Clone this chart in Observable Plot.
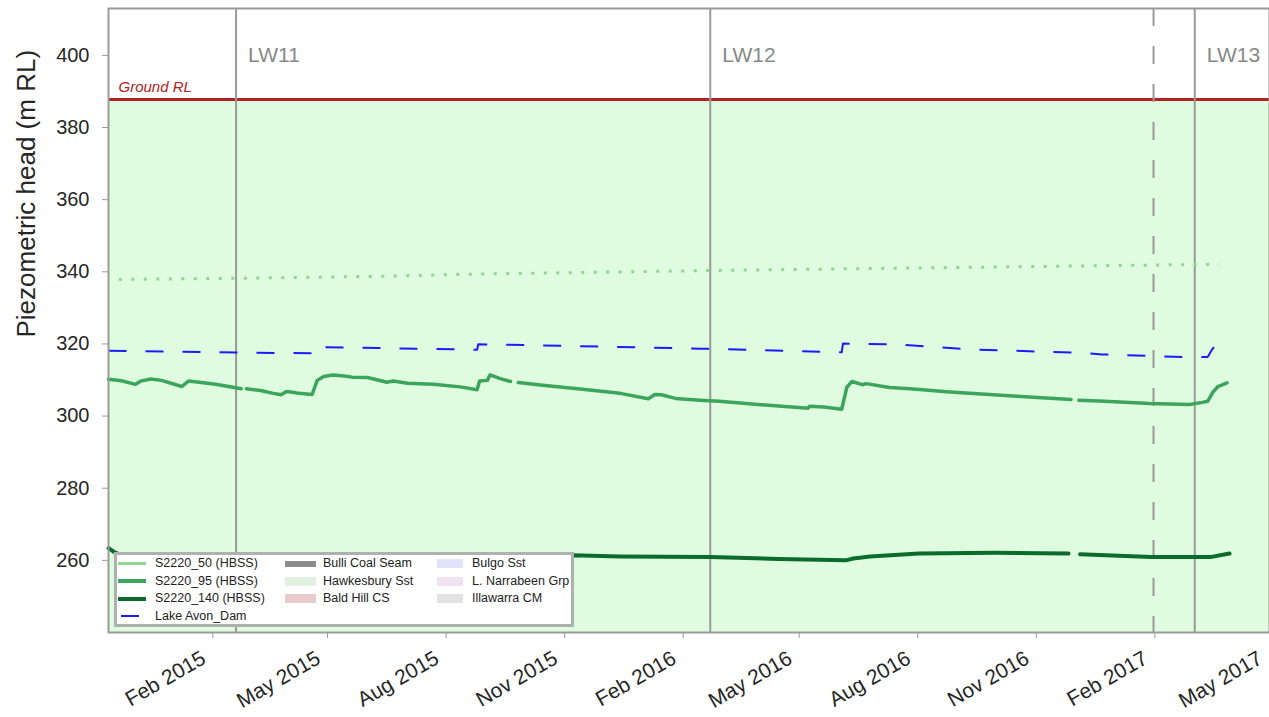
<!DOCTYPE html>
<html><head><meta charset="utf-8">
<script src="https://cdn.jsdelivr.net/npm/d3@7"></script>
<script src="https://cdn.jsdelivr.net/npm/@observablehq/plot@0.6"></script>
<style>
body{margin:0;background:#fff;font-family:Arial,"Liberation Sans",sans-serif;}
#wrap{position:relative;width:1269px;height:717px;overflow:hidden;}
#legend{position:absolute;left:114px;top:552px;width:454px;height:69px;border:3px solid #b0b0b0;background:#fff;font-size:12.5px;color:#222;}
.sw{position:absolute;}
.lt{position:absolute;line-height:17px;white-space:nowrap;}
</style></head><body><div id="wrap"></div>
<script>
// ---------- data ----------
const xDomain = ["2014-11-12", "2017-05-01"];
const yDomain = [240, 413];
const yTicks = [260, 280, 300, 320, 340, 360, 380, 400];
const xTicks = ["2015-02-01","2015-05-01","2015-08-01","2015-11-01","2016-02-01","2016-05-01","2016-08-01","2016-11-01","2017-02-01","2017-05-01"];
const groundRL = 387.8;
const lwNames = ["LW11", "LW12", "LW13"];
const lwDates = ["2015-02-19", "2016-02-22", "2017-03-04"];
const dashedDate = ["2017-01-31"];

const s2220_50 = [["2014-11-20",337.9],["2015-02-19",338.2],["2015-06-01",338.7],["2015-09-01",339.4],["2015-12-01",339.9],["2016-03-01",340.4],["2016-06-01",340.8],["2016-09-01",341.2],["2016-12-01",341.6],["2017-03-23",342.1]];

const s2220_95 = [["2014-11-12",310.2],["2014-11-22",309.8],["2014-12-03",308.8],["2014-12-07",309.7],["2014-12-15",310.3],["2014-12-23",309.9],["2015-01-08",308.2],["2015-01-13",309.7],["2015-01-23",309.3],["2015-02-03",308.8],["2015-02-12",308.3],["2015-02-23",307.6],["2015-02-25",NaN],["2015-02-27",307.6],["2015-03-10",307.1],["2015-03-20",306.3],["2015-03-26",305.9],["2015-03-30",306.8],["2015-04-04",306.6],["2015-04-09",306.3],["2015-04-19",306.0],["2015-04-23",309.9],["2015-04-28",311.0],["2015-05-05",311.4],["2015-05-14",311.1],["2015-05-20",310.8],["2015-06-01",310.7],["2015-06-16",309.4],["2015-06-21",309.7],["2015-07-02",309.1],["2015-07-22",308.8],["2015-08-12",308.1],["2015-08-25",307.3],["2015-08-27",309.7],["2015-09-02",309.9],["2015-09-04",311.4],["2015-09-12",310.4],["2015-09-20",309.6],["2015-09-23",NaN],["2015-09-26",309.3],["2015-10-13",308.6],["2015-11-13",307.5],["2015-12-14",306.3],["2016-01-05",304.8],["2016-01-10",306.0],["2016-01-15",305.9],["2016-01-26",304.9],["2016-02-14",304.4],["2016-02-29",304.1],["2016-03-23",303.4],["2016-04-15",302.8],["2016-05-08",302.2],["2016-05-09",302.7],["2016-05-20",302.5],["2016-06-03",301.9],["2016-06-07",308.0],["2016-06-11",309.6],["2016-06-19",308.7],["2016-06-22",309.0],["2016-07-10",307.9],["2016-07-26",307.6],["2016-08-26",306.7],["2016-10-17",305.5],["2016-11-28",304.6],["2016-12-01",NaN],["2016-12-04",304.4],["2016-12-20",304.2],["2017-01-28",303.5],["2017-02-28",303.2],["2017-03-10",303.8],["2017-03-14",304.1],["2017-03-18",306.6],["2017-03-22",308.2],["2017-03-29",309.2]];

const s2220_140 = [["2014-11-12",263.4],["2014-11-16",262.4],["2014-11-22",261.4],["2015-02-15",261.3],["2015-06-15",261.3],["2015-09-15",261.3],["2015-11-07",261.4],["2015-12-14",261.1],["2016-02-22",260.9],["2016-04-15",260.4],["2016-06-06",260.0],["2016-06-12",260.5],["2016-06-25",261.1],["2016-08-02",261.9],["2016-09-30",262.1],["2016-11-04",262.0],["2016-11-26",261.9],["2016-11-30",NaN],["2016-12-05",261.7],["2017-01-29",260.9],["2017-03-16",260.9],["2017-03-31",261.9]];

const lakeAvon = [["2014-11-12",318.1],["2015-02-23",317.6],["2015-04-27",317.4],["2015-04-28",319.1],["2015-08-12",318.5],["2015-08-25",318.4],["2015-08-26",319.9],["2015-10-01",319.7],["2016-02-14",318.7],["2016-03-23",318.4],["2016-05-24",317.8],["2016-06-03",317.7],["2016-06-04",320.1],["2016-07-16",319.9],["2016-09-10",318.5],["2016-12-07",317.5],["2016-12-22",317.1],["2017-03-02",316.3],["2017-03-14",316.4],["2017-03-17",318.2],["2017-03-20",319.6],["2017-03-28",319.9]];

const legendLines = ["S2220_50 (HBSS)", "S2220_95 (HBSS)", "S2220_140 (HBSS)", "Lake Avon_Dam"];
const legendPatches = ["Bulli Coal Seam", "Hawkesbury Sst", "Bald Hill CS", "Bulgo Sst", "L. Narrabeen Grp", "Illawarra CM"];

// ---------- styles ----------
const lineColors = ["#8fd68f", "#3ca55c", "#0b6b2b", "#1a1aff"];
const lineWidths = [3, 3.5, 4, 2];
const patchColors = ["#8c8c8c", "#e2f2e2", "#e8cccc", "#e2e2fc", "#f0e2f0", "#e2e2e2"];

const D = s => new Date(s);
const xd = xDomain.map(D);
const px = d => D(d[0]);
const py = d => d[1];

const chart = Plot.plot({
  width: 1269, height: 717,
  marginLeft: 108, marginRight: 0, marginTop: 8, marginBottom: 85,
  x: {type: "utc", domain: xd},
  y: {domain: yDomain},
  style: {fontFamily: "Arial, 'Liberation Sans', sans-serif", background: "#fff", overflow: "visible"},
  marks: [
    Plot.rect([{x1: xd[0], x2: xd[1], y1: yDomain[0], y2: groundRL}], {x1: "x1", x2: "x2", y1: "y1", y2: "y2", fill: "#e0fce0"}),
    Plot.ruleY([groundRL], {stroke: "#b22222", strokeWidth: 3}),
    Plot.ruleX(lwDates.map(D), {stroke: "#9a9a9a", strokeWidth: 2}),
    Plot.ruleX(dashedDate.map(D), {stroke: "#9a9a9a", strokeWidth: 2, strokeDasharray: "18,20"}),
    Plot.text(lwNames, {x: (d, i) => D(lwDates[i]), y: () => 400, text: d => d, dx: 12, textAnchor: "start", fontSize: 21, fill: "#888"}),
    Plot.text(["Ground RL"], {x: () => xd[0], y: () => groundRL, text: d => d, dx: 10, dy: -7, textAnchor: "start", lineAnchor: "bottom", fontSize: 15, fontStyle: "italic", fill: "#b22222"}),
    Plot.line(s2220_50, {x: px, y: py, stroke: lineColors[0], strokeWidth: lineWidths[0], strokeDasharray: "3,9.5", strokeLinecap: "butt"}),
    Plot.line(lakeAvon, {x: px, y: py, stroke: lineColors[3], strokeWidth: lineWidths[3], strokeDasharray: "18,19", strokeLinecap: "butt"}),
    Plot.line(s2220_95, {x: px, y: py, stroke: lineColors[1], strokeWidth: lineWidths[1]}),
    Plot.line(s2220_140, {x: px, y: py, stroke: lineColors[2], strokeWidth: lineWidths[2]}),
    Plot.frame({stroke: "#9a9a9a", strokeWidth: 2}),
    Plot.axisY({ticks: yTicks, tickSize: 6, tickPadding: 13, fontSize: 20, label: null, stroke: "#999", fill: "#262626"}),
    Plot.axisX({ticks: xTicks.map(D), tickFormat: () => "", tickSize: 6, label: null, stroke: "#999"}),
    Plot.axisX({ticks: xTicks.map(D), tickFormat: d3.utcFormat("%b %Y"), tickRotate: -30, tickSize: 0, tickPadding: 24, dx: -9, fontSize: 21, label: null, fill: "#262626"}),
    Plot.text(["Piezometric head (m RL)"], {frameAnchor: "left", text: d => d, rotate: -90, dx: -82, dy: 17, fontSize: 26, fill: "#262626"})
  ]
});

const wrap = document.getElementById("wrap");
wrap.appendChild(chart);

// ---------- legend (HTML overlay) ----------
const leg = document.createElement("div");
leg.id = "legend";
const rowTop = i => i * 17.6;
legendLines.forEach((name, i) => {
  const sw = document.createElement("div");
  sw.className = "sw";
  const w = i === 3 ? 18 : 28;
  const l = i === 3 ? 4 : 1;
  sw.style.cssText = `left:${l}px;top:${rowTop(i) + 8.5 - lineWidths[i] / 2}px;width:${w}px;height:${lineWidths[i]}px;background:${lineColors[i]};`;
  leg.appendChild(sw);
  const t = document.createElement("div");
  t.className = "lt";
  t.style.cssText = `left:38px;top:${rowTop(i)}px;`;
  t.textContent = name;
  leg.appendChild(t);
});
legendPatches.forEach((name, j) => {
  const col = Math.floor(j / 3), row = j % 3;
  const sl = col === 0 ? 168 : 320, tl = col === 0 ? 206 : 355, sw_w = col === 0 ? 31 : 26;
  const h = j === 0 ? 6 : 9;
  const sw = document.createElement("div");
  sw.className = "sw";
  sw.style.cssText = `left:${sl}px;top:${rowTop(row) + 8.5 - h / 2}px;width:${sw_w}px;height:${h}px;background:${patchColors[j]};`;
  leg.appendChild(sw);
  const t = document.createElement("div");
  t.className = "lt";
  t.style.cssText = `left:${tl}px;top:${rowTop(row)}px;`;
  t.textContent = name;
  leg.appendChild(t);
});
wrap.appendChild(leg);
</script>
</body></html>
